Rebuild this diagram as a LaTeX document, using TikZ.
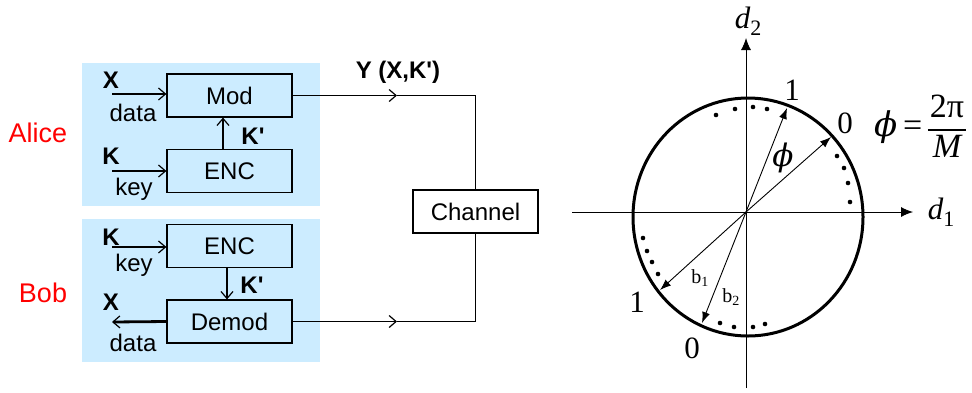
\documentclass[tikz,border=0pt]{standalone}
\usepackage{fontspec}
\setmainfont{Liberation Sans}
\newfontfamily\tnr{Liberation Serif}
\newfontfamily\dvs{DejaVu Serif}
\usepackage{tikz}
\usetikzlibrary{arrows.meta}
\definecolor{panel}{RGB}{204,236,255}
\newcommand{\lowsub}[1]{\raisebox{-7pt}{\fontsize{22}{24}\selectfont #1}}
\tikzstyle{block}=[draw=black,line width=1.2pt,minimum width=125pt,minimum height=43pt,inner sep=0pt,font=\fontsize{24}{28}\selectfont]
\tikzstyle{lbl}=[inner sep=0pt,font=\fontsize{24}{28}\selectfont]
\tikzstyle{bld}=[inner sep=0pt,font=\fontsize{24}{28}\selectfont\bfseries]
\tikzstyle{who}=[inner sep=0pt,text=red,font=\fontsize{27}{30}\selectfont]
\tikzstyle{serif}=[inner sep=0pt,font=\fontsize{31}{34}\selectfont\tnr]
\tikzstyle{formula}=[inner sep=0pt,font=\fontsize{34}{38}\selectfont\tnr]
\tikzstyle{small}=[inner sep=0pt,font=\fontsize{20}{22}\selectfont\tnr]
\tikzstyle{arrow}=[-{Straight Barb[length=7pt,width=12pt,line width=1.2pt]},line width=1.2pt]
\tikzstyle{input}=[arrow,line width=2.8pt]
\tikzstyle{axis}=[-{Latex[length=12pt,width=10pt]},line width=0.9pt]
\tikzstyle{vec}=[-{Latex[length=11pt,width=8pt]},line width=0.9pt]

\begin{document}
\begin{tikzpicture}[x=1pt,y=-1pt]
      \useasboundingbox (0,0) rectangle (972,392);
      \fill[panel] (82,63) rectangle (320,206);
      \fill[panel] (82,219) rectangle (320,362);
      \node[who] at (38,133) (alice) {Alice};
      \node[who] at (43,293) (bob) {Bob};
      \node[block] at (229.5,95.5) (modA) {Mod};
      \node[block] at (229.5,171) (encA) {ENC};
      \node[block] at (229.5,246) (encB) {ENC};
      \node[block] at (229.5,321.5) (demB) {Demod};
      \node[block,fill=white] at (475.5,211.5) (chan) {Channel};
      \node[bld] at (111,80) (xA) {X};
      \node[lbl] at (133,113) (dataA) {data};
      \node[bld] at (111,156) (kA) {K};
      \node[lbl] at (134,189) (keyA) {key};
      \node[bld] at (253,136) (kpA) {K\textquotesingle};
      \node[bld] at (111,237) (kB) {K};
      \node[lbl] at (134,265) (keyB) {key};
      \node[bld] at (252,285) (kpB) {K\textquotesingle};
      \node[bld] at (111,302) (xB) {X};
      \node[lbl] at (133,343) (dataB) {data};
      \node[bld] at (398,72) (ylbl) {Y (X,K\textquotesingle)};
      \coordinate (xinA) at (112,94);
      \coordinate (kinA) at (112,171);
      \coordinate (kinB) at (112,247);
      \coordinate (xoutB) at (112,322);
      \coordinate (yup) at (397,95.5);
      \coordinate (ydown) at (397,321.5);
      \draw[input] (xinA) -- (xinA -| modA.west);
      \draw[input] (kinA) -- (kinA -| encA.west);
      \draw[input] (kinB) -- (kinB -| encB.west);
      \draw[input] (demB.west) -- (xoutB);
      \draw[arrow] ([xshift=-6.5pt]encA.north) -- ([xshift=-6.5pt]modA.south);
      \draw[arrow] ([xshift=-2.5pt]encB.south) -- ([xshift=-2.5pt]demB.north);
      \draw[arrow] (modA.east) -- (yup);
      \draw[line width=1.2pt] (yup) -| (chan.north);
      \draw[arrow] (demB.east) -- (ydown);
      \draw[line width=1.2pt] (ydown) -| (chan.south);

      \coordinate (o) at (746,212);
      \coordinate (axl) at (572,212);
      \coordinate (axr) at (913,212);
      \coordinate (axb) at (746,388);
      \coordinate (axt) at (746,38);
      \draw[line width=0.9pt] (axl) -- (o);
      \draw[axis] (o) -- (axr);
      \draw[line width=0.9pt] (axb) -- (o);
      \draw[axis] (o) -- (axt);
      \draw[line width=3pt] (748,217) ellipse [x radius=115pt,y radius=119pt];
      \foreach \px/\py in {716/115,735/109,753/107,767/109,
                           837/156,844/168,848/183,850/202,
                           643/238,647/251,652/262,658/274,
                           720/323,734/327,753/327,765/324}
        \fill (\px,\py) circle (2.3pt);
      \coordinate (t1) at (787,108);
      \coordinate (t0) at (831,137);
      \coordinate (s1) at (660,290);
      \coordinate (s0) at (702,323);
      \draw[vec] (o) -- (t1);
      \draw[vec] (o) -- (t0);
      \draw[vec] (o) -- (s1);
      \draw[vec] (o) -- (s0);
      \node[serif] at (748,21) (d2) {\itshape d\upshape\lowsub{2}};
      \node[serif] at (941,212) (d1) {\itshape d\upshape\lowsub{1}};
      \node[serif] at (792,90) (n1) {1};
      \node[serif] at (845,123) (n0) {0};
      \node[serif] at (637,302) (m1) {1};
      \node[serif] at (692,348) (m0) {0};
      \node[serif] at (783,158) (phi) {{\dvs\itshape ϕ}};
      \node[small] at (700,278) (b1) {b\textsubscript{1}};
      \node[small] at (731,297) (b2) {b\textsubscript{2}};
      \node[formula,anchor=west] at (874,130) (eq) {{\dvs\itshape ϕ}\,=\,{\setlength{\arrayrulewidth}{1.3pt}\begin{tabular}{@{\hspace{2pt}}c@{\hspace{2pt}}}2π\\\hline\itshape M\end{tabular}}};
    \end{tikzpicture}
\end{document}
